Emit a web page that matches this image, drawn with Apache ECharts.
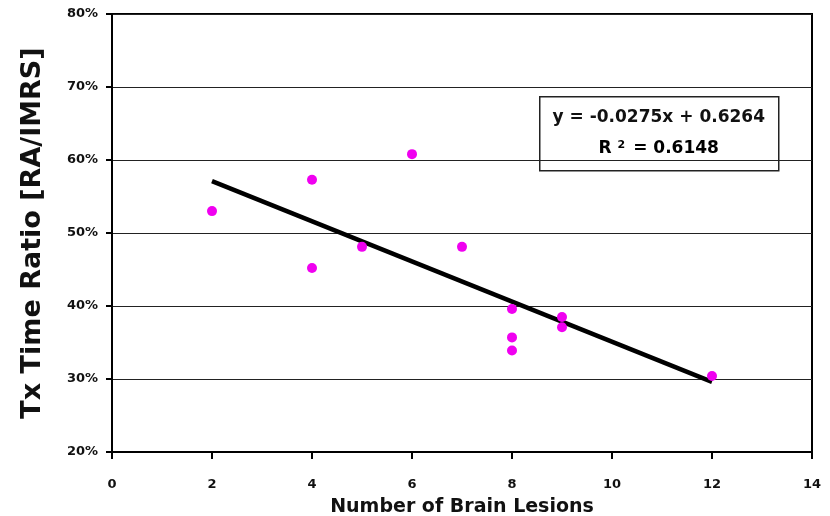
<!DOCTYPE html>
<html>
<head>
<meta charset="utf-8">
<style>
  html, body { margin: 0; padding: 0; background: #fff; }
  #scatterChart { width: 830px; height: 516px; }
</style>
<script src="https://cdn.jsdelivr.net/npm/echarts@6/dist/echarts.min.js"></script>
</head>
<body>
<div id="scatterChart"></div>
<script>
// number of lesions vs treatment time ratio
var lesions = [2, 4, 4, 5, 6, 7, 8, 8, 8, 9, 9, 12];
var ratios = [0.530, 0.573, 0.452, 0.481, 0.608, 0.481, 0.396, 0.357, 0.339, 0.385, 0.371, 0.304];
// fitted line, read at both ends
var trendX = [2, 12];
var trendY = [0.571, 0.296];
var eqText = "y = -0.0275x + 0.6264";
var r2Text = "0.6148";

var font = "DejaVu Sans";

var points = [];
lesions.forEach(function(x, i) {
  points.push([x, ratios[i]]);
});
var trend = [];
trendX.forEach(function(x, i) {
  trend.push([x, trendY[i]]);
});

var myChart = echarts.init(document.getElementById("scatterChart"));
var option = {
  animation: false,
  backgroundColor: "#fff",
  grid: {
    left: 112,
    right: 18,
    top: 14,
    bottom: 64,
    outerBoundsMode: "none",
    show: true,
    borderColor: "#000",
    borderWidth: 2
  },
  xAxis: {
    type: "value",
    min: 0,
    max: 14,
    interval: 2,
    name: "Number of Brain Lesions",
    nameLocation: "middle",
    nameGap: 46,
    nameTextStyle: { fontFamily: font, fontWeight: "bold", fontSize: 19, color: "#111" },
    axisLine: { lineStyle: { color: "#000", width: 2 } },
    axisTick: { show: true, length: 7, lineStyle: { color: "#000", width: 2 } },
    axisLabel: { margin: 26, fontFamily: font, fontWeight: "bold", fontSize: 13, color: "#111" },
    splitLine: { show: false }
  },
  yAxis: {
    type: "value",
    min: 0.2,
    max: 0.8,
    interval: 0.1,
    name: "Tx Time Ratio [RA/IMRS]",
    nameLocation: "middle",
    nameGap: 66,
    nameTextStyle: { fontFamily: font, fontWeight: "bold", fontSize: 27, color: "#111" },
    axisLine: { lineStyle: { color: "#000", width: 2 } },
    axisTick: { show: true, length: 6, lineStyle: { color: "#000", width: 2 } },
    axisLabel: {
      margin: 14,
      fontFamily: font,
      fontWeight: "bold",
      fontSize: 13,
      color: "#111",
      formatter: function(v) {
        return Math.round(v * 100) + "%";
      }
    },
    splitLine: { lineStyle: { color: "#222", width: 1 } }
  },
  series: [
    {
      name: "trend",
      type: "line",
      data: trend,
      symbol: "none",
      lineStyle: { color: "#000", width: 4.5 },
      z: 2
    },
    {
      name: "lesions",
      type: "scatter",
      data: points,
      symbol: "circle",
      symbolSize: 10,
      itemStyle: { color: "#f000f0", opacity: 1 },
      z: 3
    }
  ],
  graphic: [
    {
      type: "group",
      left: 539,
      top: 96,
      z: 10,
      children: [
        {
          type: "rect",
          shape: { x: 0, y: 0, width: 239, height: 74 },
          style: { fill: "#fff", stroke: "#222", lineWidth: 1.5 }
        },
        {
          type: "text",
          x: 119,
          y: 21,
          style: {
            text: eqText,
            fontFamily: font,
            fontWeight: "bold",
            fontSize: 17,
            fill: "#111",
            align: "center",
            verticalAlign: "middle"
          }
        },
        {
          type: "text",
          x: 119,
          y: 52,
          style: {
            text: "{a|R }{s|2}{a| = " + r2Text + "}",
            align: "center",
            verticalAlign: "middle",
            rich: {
              a: { fontFamily: font, fontWeight: "bold", fontSize: 17, color: "#111" },
              s: { fontFamily: font, fontWeight: "bold", fontSize: 11, color: "#111", verticalAlign: "top", padding: [0, 2, 8, 0] }
            }
          }
        }
      ]
    }
  ]
};
myChart.setOption(option);
</script>
</body>
</html>
